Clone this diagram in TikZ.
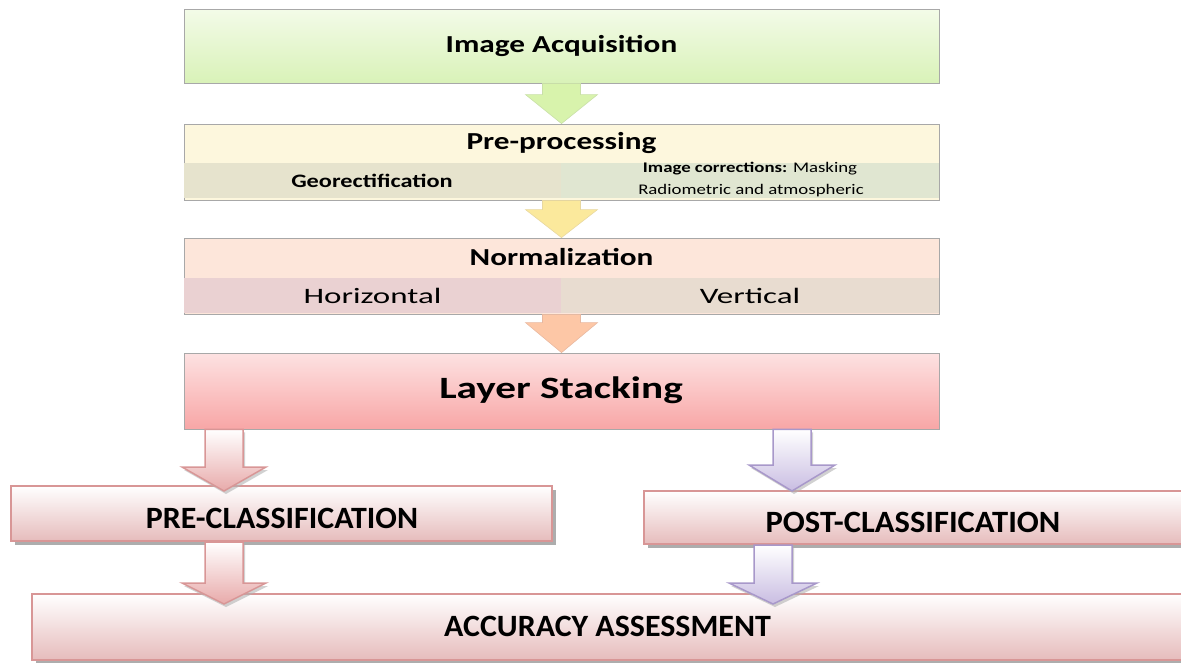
\documentclass[tikz,border=0pt]{standalone}
\usepackage{fontspec}
\usepackage{graphicx}
\setmainfont{Carlito}
\usetikzlibrary{calc,shadows}
\definecolor{grayline}{HTML}{A8A8A8}
\definecolor{pinkline}{HTML}{D89696}
\definecolor{lavline}{HTML}{A898CA}
\definecolor{acqtop}{HTML}{F3FBE8}
\definecolor{acqbot}{HTML}{D9F2B8}
\definecolor{prefill}{HTML}{FDF7DD}
\definecolor{geofill}{HTML}{E6E3CD}
\definecolor{corrfill}{HTML}{E0E6D1}
\definecolor{normfill}{HTML}{FDE6DA}
\definecolor{horfill}{HTML}{EAD1D2}
\definecolor{verfill}{HTML}{E8DCD0}
\definecolor{stacktop}{HTML}{FDE2E2}
\definecolor{stackbot}{HTML}{F8A6A6}
\definecolor{classbot}{HTML}{E6BCBC}
\definecolor{garrfill}{HTML}{D8F3AC}
\definecolor{garrline}{HTML}{C9E0A8}
\definecolor{yarrfill}{HTML}{FBE99C}
\definecolor{yarrline}{HTML}{E8D8A0}
\definecolor{parrfill}{HTML}{FDC7A6}
\definecolor{parrline}{HTML}{E8B8A0}
\definecolor{pinkarrbot}{HTML}{E8AAAA}
\definecolor{lavarrbot}{HTML}{C9BDE2}
\newcommand\stretchtxt[3]{\scalebox{#1}[1]{\fontsize{#2}{#2}\selectfont #3}}
\tikzset{
  flowbox/.style={draw=grayline, line width=0.8pt, inner sep=0pt, minimum width=755pt, minimum height=76pt},
  band/.style={inner sep=0pt, minimum height=35pt, minimum width=377.5pt},
  classbox/.style={draw=pinkline, line width=2pt, inner sep=0pt, top color=white, bottom color=classbot,
     drop shadow={shadow xshift=4pt, shadow yshift=-4pt, fill=black!40, opacity=0.8}},
  label/.style={inner sep=0pt},
  garrow/.style={fill=garrfill, draw=garrline, line width=0.6pt},
  yarrow/.style={fill=yarrfill, draw=yarrline, line width=0.6pt},
  parrow/.style={fill=parrfill, draw=parrline, line width=0.6pt},
  pinkarrow/.style={top color=white, bottom color=pinkarrbot, draw=pinkline, line width=1.5pt,
     drop shadow={shadow xshift=2pt, shadow yshift=-3pt, fill=black!30, opacity=0.6}},
  lavarrow/.style={top color=white, bottom color=lavarrbot, draw=lavline, line width=1.5pt,
     drop shadow={shadow xshift=2pt, shadow yshift=-3pt, fill=black!30, opacity=0.6}},
}
% block arrow: #1 style, #2 start, #3 end, #4 shaft half width, #5 head half width, #6 head length
\newcommand\blockarr[6]{%
  \path[#1] let \p1=#2, \p2=#3 in
    (\x1-#4,\y1) -- (\x1-#4,\y2+#6) -- (\x1-#5,\y2+#6) -- (\x1,\y2)
    -- (\x1+#5,\y2+#6) -- (\x1+#4,\y2+#6) -- (\x1+#4,\y1) -- cycle;}
\begin{document}
\begin{tikzpicture}[x=1pt,y=-1pt]
\useasboundingbox (0,0) rectangle (1181,662);
% ---- Image Acquisition
\node[flowbox, minimum height=74pt, top color=acqtop, bottom color=acqbot] (acq) at (561.5,46) {};
\node[label] (acqt) at (561.5,46) {\stretchtxt{1.28}{24.4}{\bfseries Image Acquisition}};
% ---- Pre-processing
\node[flowbox, fill=prefill] (pre) at (561.5,162) {};
\node[label] (pret) at (561.5,143) {\stretchtxt{1.28}{24.4}{\bfseries Pre-processing}};
\node[band, fill=geofill, anchor=north west] (geo) at (184,163) {};
\node[band, fill=corrfill, anchor=north east] (corr) at (939,163) {};
\node[label] (geot) at (372,181) {\stretchtxt{1.28}{19}{\bfseries Georectification}};
\node[label] (corr1) at (750,169) {\stretchtxt{1.28}{14.7}{\textbf{Image corrections:} Masking}};
\node[label] (corr2) at (751,191) {\stretchtxt{1.28}{14.7}{Radiometric and atmospheric}};
% ---- Normalization
\node[flowbox, fill=normfill] (norm) at (561.5,276) {};
\node[label] (normt) at (561.5,257) {\stretchtxt{1.28}{24.4}{\bfseries Normalization}};
\node[band, fill=horfill, anchor=north west] (hor) at (184,278) {};
\node[band, fill=verfill, anchor=north east] (ver) at (939,278) {};
\node[label] (hort) at (372.5,296) {\stretchtxt{1.5}{22}{Horizontal}};
\node[label] (vert) at (750,296) {\stretchtxt{1.5}{22}{Vertical}};
% ---- Layer Stacking
\node[flowbox, top color=stacktop, bottom color=stackbot] (stack) at (561.5,391) {};
\node[label] (stackt) at (561,390) {\stretchtxt{1.33}{31}{\bfseries Layer Stacking}};
% ---- classification boxes
\node[classbox, minimum width=541pt, minimum height=55pt] (precl) at (281.5,513.5) {};
\node[label] (preclt) at (282,518) {\stretchtxt{1.03}{31}{\bfseries PRE-CLASSIFICATION}};
\node[classbox, minimum width=545pt, minimum height=53pt, anchor=west] (postcl) at (643,517.5) {};
\node[label] (postclt) at (913,522) {\stretchtxt{1.05}{31}{\bfseries POST-CLASSIFICATION}};
\node[classbox, minimum width=1160pt, minimum height=66pt, anchor=west] (acc) at (31,627) {};
\node[label] (acct) at (607.5,626) {\stretchtxt{1.03}{31}{\bfseries ACCURACY ASSESSMENT}};
% ---- arrows
\blockarr{garrow}{(acq.south)}{(pre.north)}{19pt}{36pt}{29pt}
\blockarr{yarrow}{(pre.south)}{(norm.north)}{19pt}{36pt}{28pt}
\blockarr{parrow}{(norm.south)}{(stack.north)}{19pt}{36pt}{30pt}
\coordinate (lx) at (224,0);
\coordinate (rx) at (792,0);
\coordinate (rx2) at (773,0);
\blockarr{pinkarrow}{(stack.south -| lx)}{($(precl.north -| lx)+(0,6)$)}{19pt}{42pt}{24pt}
\blockarr{lavarrow}{(stack.south -| rx)}{($(postcl.north -| rx)+(0,1)$)}{19pt}{43pt}{26pt}
\blockarr{pinkarrow}{(precl.south -| lx)}{($(acc.north -| lx)+(0,11)$)}{19pt}{42pt}{21pt}
\blockarr{lavarrow}{(postcl.south -| rx2)}{($(acc.north -| rx2)+(0,11)$)}{19pt}{44pt}{21pt}
\end{tikzpicture}
\end{document}
